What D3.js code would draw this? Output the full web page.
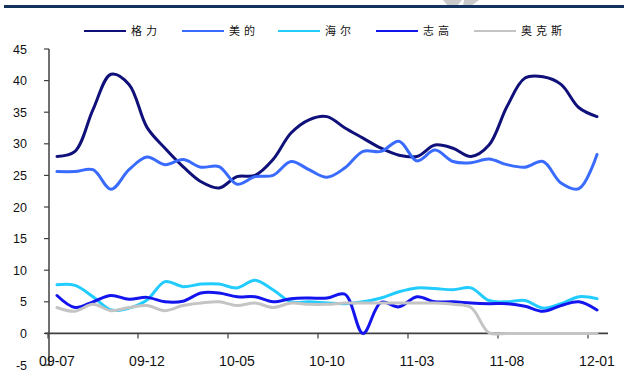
<!DOCTYPE html>
<html><head><meta charset="utf-8">
<script src="https://cdn.jsdelivr.net/npm/d3@7"></script>
<style>html,body{margin:0;padding:0;background:#fff;}svg{display:block;}</style>
</head><body>
<script>
const months = ["09-07","09-08","09-09","09-10","09-11","09-12","10-01","10-02","10-03","10-04","10-05","10-06","10-07","10-08","10-09","10-10","10-11","10-12","11-01","11-02","11-03","11-04","11-05","11-06","11-07","11-08","11-09","11-10","11-11","11-12","12-01"];
const tickLabels = ["09-07","09-12","10-05","10-10","11-03","11-08","12-01"];
const yTicks = [-5,0,5,10,15,20,25,30,35,40,45];
const seriesNames = ["格力","美的","海尔","志高","奥克斯"];
const seriesColors = ["#10107a","#3a6bff","#22ccff","#1414ee","#c4c4c4"];
const gree  = [28.0,28.8,35.4,41.0,39.4,32.6,29.3,26.4,24.0,23.0,24.8,25.0,27.5,31.7,33.8,34.3,32.5,30.9,29.3,28.2,28.0,29.8,29.3,28.0,29.8,35.9,40.4,40.6,39.4,35.7,34.3];
const midea = [25.6,25.6,25.9,22.8,25.9,27.9,26.7,27.5,26.3,26.4,23.6,24.8,25.0,27.2,25.9,24.7,26.2,28.8,28.8,30.4,27.3,29.0,27.2,27.0,27.6,26.7,26.3,27.2,23.8,22.9,28.3];
const haier = [7.7,7.6,5.8,3.7,4.0,5.3,8.2,7.4,7.8,7.8,7.2,8.4,6.9,5.0,5.0,4.8,4.7,5.0,5.6,6.6,7.2,7.1,6.9,7.2,5.2,5.0,5.2,4.0,4.7,5.8,5.5];
const chigo = [6.0,4.1,5.0,6.0,5.4,5.7,5.0,5.1,6.4,6.4,5.8,5.8,5.0,5.5,5.6,5.6,6.2,0.0,4.9,4.2,5.8,5.0,5.0,4.8,4.7,4.7,4.3,3.5,4.4,5.0,3.7];
const aux   = [4.1,3.5,4.6,3.6,4.1,4.4,3.6,4.4,4.8,5.0,4.4,4.8,4.1,4.8,4.6,4.6,4.8,4.8,4.8,4.8,4.8,4.8,4.6,4.1,0.1,0,0,0,0,0,0];
const seriesData = [gree, midea, haier, chigo, aux];

const W = 624, H = 379;
const svg = d3.select("body").append("svg").attr("width", W).attr("height", H);

// header rule and watermark
svg.append("polygon").attr("points","443,0 462,0 457,6 448,6").attr("fill","#cacaca");
svg.append("polygon").attr("points","464,0 479,0 471,6 463,6").attr("fill","#cacaca");
svg.append("rect").attr("x",4).attr("y",5).attr("width",W-4).attr("height",3).attr("fill","#13335c");

const x = d3.scaleBand().domain(months).range([48, 606]).paddingInner(0).paddingOuter(0);
const y = d3.scaleLinear().domain([-5, 45]).range([365, 49]);
const cx = m => x(m) + x.bandwidth() / 2;

// y axis
const gy = svg.append("g");
gy.append("line").attr("x1", 49).attr("x2", 49).attr("y1", y(45)).attr("y2", y(-5))
  .attr("stroke", "#404040").attr("stroke-width", 1.5);
gy.selectAll("line.t").data(yTicks).join("line").attr("class","t")
  .attr("x1", 44).attr("x2", 49).attr("y1", d => y(d)).attr("y2", d => y(d))
  .attr("stroke", "#404040").attr("stroke-width", 1.2);
gy.selectAll("text").data(yTicks).join("text")
  .attr("x", 27).attr("y", d => y(d) + 4.5).attr("text-anchor", "end")
  .attr("font-family", "Liberation Sans, Arial, sans-serif").attr("font-size", 12.5)
  .attr("fill", "#111").text(d => d);

// x axis at zero
const gx = svg.append("g");
gx.append("line").attr("x1", 45).attr("x2", 608).attr("y1", y(0)).attr("y2", y(0))
  .attr("stroke", "#404040").attr("stroke-width", 1.6);
gx.selectAll("line.t").data(tickLabels).join("line").attr("class","t")
  .attr("x1", d => x(d)).attr("x2", d => x(d)).attr("y1", y(0)).attr("y2", y(0) + 5)
  .attr("stroke", "#404040").attr("stroke-width", 1.2);
gx.selectAll("text").data(tickLabels).join("text")
  .attr("x", d => cx(d)).attr("y", 366).attr("text-anchor", "middle")
  .attr("font-family", "Liberation Sans, Arial, sans-serif").attr("font-size", 14)
  .attr("fill", "#111").text(d => d);

// lines
const line = d3.line().x((d, i) => cx(months[i])).y(d => y(d)).curve(d3.curveCatmullRom.alpha(0.5));
seriesData.forEach((s, k) => {
  svg.append("path").datum(s).attr("d", line).attr("fill", "none")
    .attr("stroke", seriesColors[k]).attr("stroke-width", 3)
    .attr("stroke-linejoin", "round").attr("stroke-linecap", "round");
});

// legend
const legX = [84, 182, 278, 376, 474];
const lg = svg.append("g");
seriesNames.forEach((n, k) => {
  lg.append("line").attr("x1", legX[k]).attr("x2", legX[k] + 42).attr("y1", 31).attr("y2", 31)
    .attr("stroke", seriesColors[k]).attr("stroke-width", 2);
  lg.append("text").attr("x", legX[k] + 47).attr("y", 35)
    .attr("font-family", "Noto Sans CJK SC, sans-serif").attr("font-size", 11)
    .attr("letter-spacing", 4).attr("fill", "#111").text(n);
});
</script>
</body></html>
